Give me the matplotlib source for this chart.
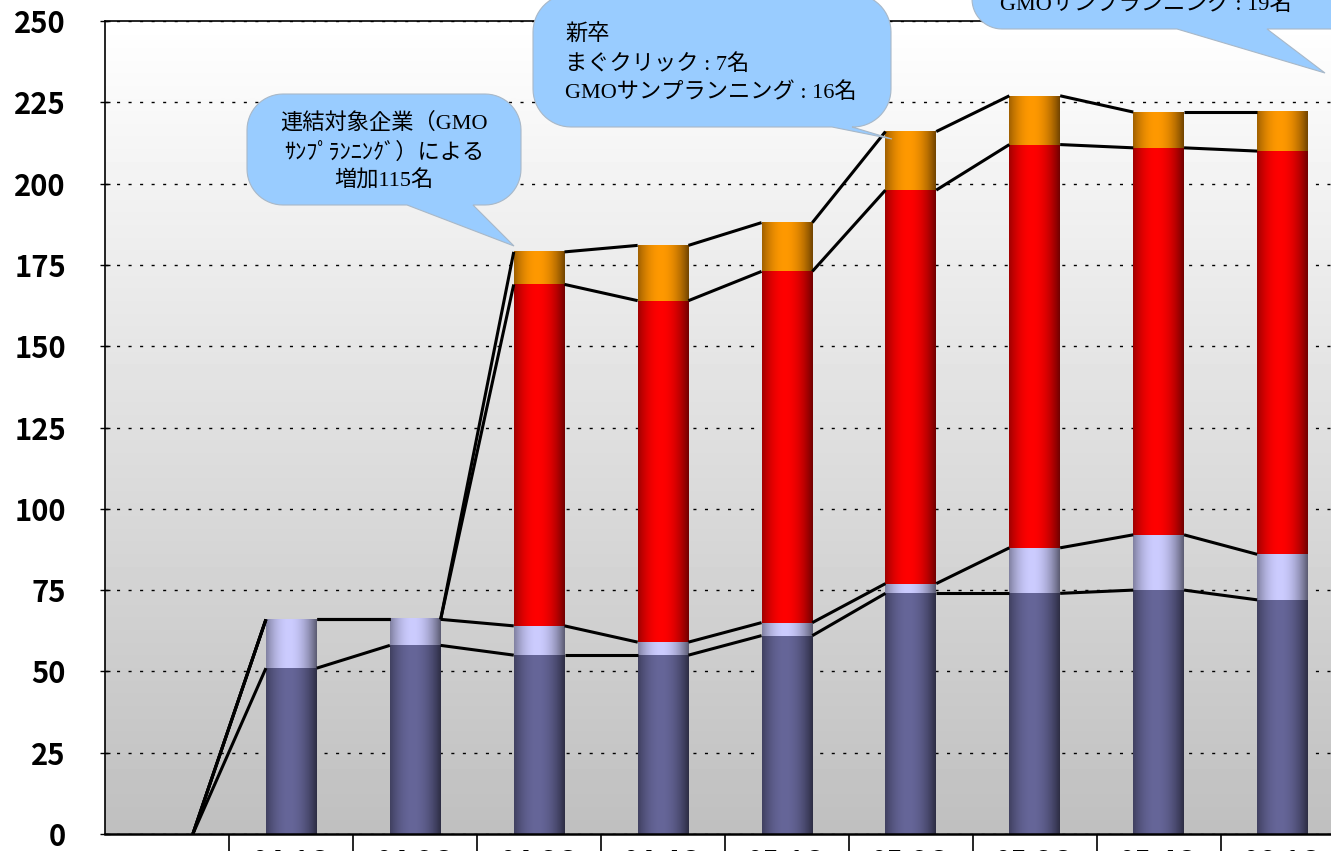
import numpy as np
import matplotlib
matplotlib.use("Agg")
import matplotlib.pyplot as plt
from matplotlib.path import Path
from matplotlib.patches import PathPatch
from matplotlib.colors import to_rgb

# headcount per quarter, stacked bottom -> top
quarters = ["", "04.1Q", "04.2Q", "04.3Q", "04.4Q", "05.1Q", "05.2Q", "05.3Q", "05.4Q", "06.1Q"]
staff_a = [0, 51, 58, 55, 55, 61, 74, 74, 75, 72]
staff_b = [0, 15, 8, 9, 4, 4, 3, 14, 17, 14]
staff_c = [0, 0, 0, 105, 105, 108, 121, 124, 119, 124]
staff_d = [0, 0, 0, 10, 17, 15, 18, 15, 11, 12]
yticks = list(range(0, 251, 25))

COLORS = ["#666699", "#ccccff", "#ff0000", "#ff9900"]
JP = ["Liberation Serif", "Noto Sans CJK JP"]
TICKF = ["Noto Sans CJK JP", "DejaVu Sans"]
W, H = 1331, 851
BARW = 0.41

fig = plt.figure(figsize=(W / 100, H / 100), dpi=100)
fig.patch.set_facecolor("white")
# plot area runs off the right edge like the cropped original
ax = fig.add_axes([105.5 / W, 17 / H, 1239 / W, 813 / H])

# grey-to-white plot-area background
bg = np.linspace(1.0, 0.75, 256)[:, None]
ax.imshow(bg, cmap="gray", vmin=0, vmax=1, extent=(-0.5, 9.5, 0, 250),
          aspect="auto", zorder=0, interpolation="bilinear")

x = np.arange(len(quarters))
series = [staff_a, staff_b, staff_c, staff_d]
bottom = np.zeros(len(quarters))
tops = []
conts = []
for vals, col in zip(series, COLORS):
    c = ax.bar(x, vals, BARW, bottom=bottom, color=col, zorder=2, linewidth=0)
    conts.append(c)
    bottom = bottom + np.array(vals)
    tops.append(bottom.copy())

# cylinder-ish horizontal shading on every bar segment
t = np.linspace(0, 1, 64)
prof = 1 - np.clip(np.abs(t - 0.45) / 0.55, 0, 1) ** 2
for c, col in zip(conts, COLORS):
    img = (0.45 + 0.55 * prof)[None, :, None] * np.array(to_rgb(col))[None, None, :]
    for p in c.patches:
        if p.get_height() <= 0:
            continue
        x0, y0 = p.get_x(), p.get_y()
        ax.imshow(img, extent=(x0, x0 + p.get_width(), y0, y0 + p.get_height()),
                  aspect="auto", zorder=2.1, interpolation="bilinear")

# series lines between neighbouring bars
for lev in tops:
    for i in range(len(quarters) - 1):
        ax.plot([x[i] + BARW / 2, x[i + 1] - BARW / 2], [lev[i], lev[i + 1]],
                color="black", lw=2.2, zorder=3, solid_capstyle="butt")

ax.set_xlim(-0.5, 9.5)
ax.set_ylim(0, 250)
ax.set_yticks(yticks)
ax.grid(axis="y", color="black", lw=1.0, linestyle=(0, (2.2, 6.1)))
ax.set_axisbelow(True)
ax.tick_params(axis="y", direction="inout", length=7, width=1, pad=25,
               labelsize=21)
for lab in ax.get_yticklabels():
    lab.set_family(TICKF)
    lab.set_fontweight("bold")

ax.set_xticks(x)
ax.set_xticklabels(quarters, fontsize=20, fontweight="bold", family=TICKF)
ax.set_xticks(x[:-1] + 0.5, minor=True)
ax.tick_params(axis="x", which="major", length=0, pad=11)
ax.tick_params(axis="x", which="minor", length=16, width=1.2, direction="out")
for s in ["left", "top"]:
    ax.spines[s].set_linewidth(1.2)
ax.spines["bottom"].set_linewidth(1.8)

# callout bubbles, drawn in figure pixel coordinates (y down)
ov = fig.add_axes([0, 0, 1, 1], zorder=5)
ov.set_xlim(0, W)
ov.set_ylim(H, 0)
ov.axis("off")


def bubble(x0, y0, x1, y1, r, ba, bb, tip):
    pts = []

    def arc(cx, cy, a0, a1):
        for a in np.linspace(np.radians(a0), np.radians(a1), 16):
            pts.append((cx + r * np.cos(a), cy + r * np.sin(a)))

    pts.append((x0 + r, y0))
    arc(x1 - r, y0 + r, -90, 0)
    arc(x1 - r, y1 - r, 0, 90)
    pts += [(bb, y1), tip, (ba, y1)]
    arc(x0 + r, y1 - r, 90, 180)
    arc(x0 + r, y0 + r, 180, 270)
    pts.append(pts[0])
    codes = [Path.MOVETO] + [Path.LINETO] * (len(pts) - 2) + [Path.CLOSEPOLY]
    ov.add_patch(PathPatch(Path(pts, codes), facecolor="#99ccff",
                           edgecolor="#a8b8c8", lw=0.8))


bubble(247, 94, 521, 205, 36, 407, 473, (514, 246))
for yy, s in zip([123, 153, 181], ["連結対象企業（GMO", "ｻﾝﾌﾟﾗﾝﾆﾝｸﾞ）による", "増加115名"]):
    ov.text(384, yy, s, ha="center", va="center", fontsize=16, family=JP)

bubble(533, -6, 891, 127, 38, 832, 852, (892, 139))
for yy, s in zip([35, 65, 93], ["新卒", "まぐクリック : 7名", "GMOサンプランニング : 16名"]):
    ov.text(565, yy, s, ha="left", va="center", fontsize=16, family=JP)

bubble(972, -120, 1370, 29, 30, 1177, 1267, (1325, 73))
ov.text(1000, 5, "GMOサンプランニング : 19名", ha="left", va="center", fontsize=16, family=JP)

fig.savefig("out.png", dpi=100, facecolor="white")
